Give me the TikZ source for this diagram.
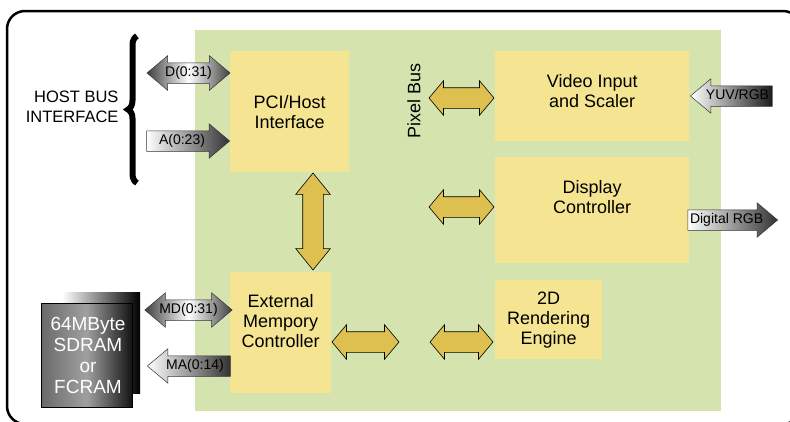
\documentclass[tikz,border=0pt]{standalone}
\usepackage{fontspec}
\setmainfont{Liberation Sans}
\usepackage{xcolor}
\usetikzlibrary{shapes.arrows,decorations.pathreplacing}

\definecolor{busgreen}{RGB}{213,227,175}
\definecolor{boxyellow}{RGB}{245,229,146}
\definecolor{arrowgold}{RGB}{222,192,80}
\definecolor{chipleft}{RGB}{105,105,105}
\definecolor{chipmid}{RGB}{160,160,160}
\definecolor{chipright}{RGB}{20,20,20}

\tikzset{
  blockbox/.style={fill=boxyellow, inner sep=0pt, anchor=north west},
  blocktext/.style={font=\fontsize{18}{20}\selectfont, align=center},
  busarrow/.style={double arrow, fill=arrowgold, draw=black, line width=0.6pt,
    inner xsep=0pt, inner ysep=10pt, double arrow head extend=7pt,
    double arrow tip angle=100},
  sigarrow/.style={draw=black!80, line width=0.5pt,
    font=\fontsize{14}{16}\selectfont, text height=10pt, text depth=3pt,
    inner xsep=2pt, inner ysep=3.5pt, minimum height=83pt},
  sigsingle/.style={sigarrow, single arrow, single arrow head extend=7pt,
    single arrow tip angle=80},
  sigdouble/.style={sigarrow, double arrow, double arrow head extend=7pt,
    double arrow tip angle=80},
}

\begin{document}
\begin{tikzpicture}[x=1pt, y=-1pt]
  \useasboundingbox (0,0) rectangle (790,421);
  % frame and bus area
  \draw[line width=2.5pt, rounded corners=18pt] (7,11) rectangle (801,424);
  \fill[busgreen] (195,30) rectangle (721,411);

  % blocks
  \node[blockbox, minimum width=119pt, minimum height=121pt,
    label={[blocktext]center:PCI/Host\\Interface}] (pci) at (230,51) {};
  \node[blockbox, minimum width=101pt, minimum height=121pt,
    label={[blocktext, yshift=12pt]center:External\\Mempory\\Controller}] (extmem) at (230,272) {};
  \node[blockbox, minimum width=194pt, minimum height=90pt,
    label={[blocktext, yshift=5pt]center:Video Input\\and Scaler}] (video) at (495,51) {};
  \node[blockbox, minimum width=194pt, minimum height=106pt,
    label={[blocktext, yshift=13pt]center:Display\\Controller}] (display) at (495,157) {};
  \node[blockbox, minimum width=107pt, minimum height=79pt,
    label={[blocktext]center:2D\\Rendering\\Engine}] (render) at (495,280) {};

  \node[blocktext, rotate=90] (pixelbus) at (414,101) {Pixel Bus};

  % bus arrows
  \node[busarrow, minimum height=65pt] (vidbus) at (461.5,98) {};
  \node[busarrow, minimum height=65pt] (dispbus) at (461.5,207) {};
  \node[busarrow, minimum height=97pt, rotate=90, double arrow tip angle=78] (hostbus) at (313,221.5) {};
  \node[busarrow, minimum height=67pt] (membus) at (365.5,342) {};
  \node[busarrow, minimum height=63pt] (rendbus) at (461.5,342) {};

  % host side
  \node[font=\fontsize{16.5}{20}\selectfont, align=right, anchor=east] (host) at (122,107) {HOST BUS\\INTERFACE};
  \draw[decorate, decoration={brace, amplitude=9pt}, line width=6pt] (137,183) -- (137,36);
  \node[sigdouble, left color=black!75, right color=black!75, middle color=white] (dbus) at (188.5,73) {D(0:31)};
  \node[sigsingle, anchor=tip, left color=white, right color=black!80] (abus) at (230,141) {A(0:23)};

  % memory
  \shade[left color=white, right color=black] (62,292) rectangle (140,393);
  \shade[left color=chipleft, right color=chipright, middle color=chipmid,
    draw=black, line width=0.6pt] (41,303) rectangle (132,407);
  \node[text=white, font=\fontsize{19}{21}\selectfont, align=center] (mem) at (88,355) {64MByte\\SDRAM\\or\\FCRAM};
  \node[sigdouble, left color=black!75, right color=black!75, middle color=white] (mdbus) at (188.5,310) {MD(0:31)};
  \node[sigsingle, anchor=tip, shape border rotate=180, left color=white, right color=black!80] (mabus) at (147,366) {MA(0:14)};

  % video in / out
  \node[sigsingle, anchor=tip, shape border rotate=180, minimum height=82pt,
    left color=white, right color=black!90] (yuv) at (690,96) {YUV/RGB};
  \node[sigsingle, anchor=tip, minimum height=88pt,
    left color=white, right color=black!80] (rgbout) at (778,220) {Digital RGB};
\end{tikzpicture}
\end{document}
